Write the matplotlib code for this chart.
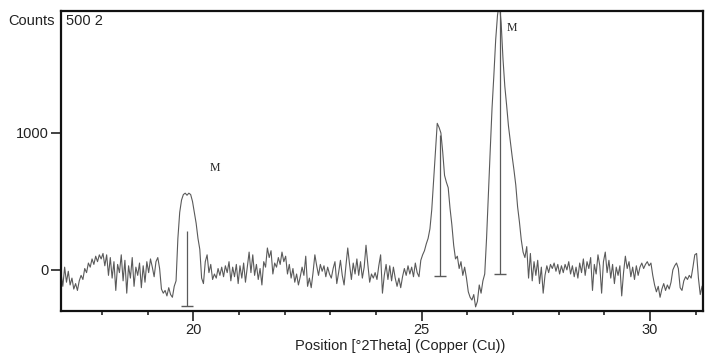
import numpy as np
import matplotlib
matplotlib.use('Agg')
import matplotlib.pyplot as plt
from matplotlib.ticker import MultipleLocator

# Difratograma - amostra 500 2 (Cu K-alfa), passo de 0.04 graus
theta_inicio = 17.10
passo = 0.04

contagens = [
    # 17.10 - 18.06
    -20, -120, 20, -90, -10, -110, -60, -140, -100, -150, -80, -40, -70, 10, -20, 50, 20, 80, 40, 100, 60, 110, 80, 120, 30,
    # 18.10 - 19.06
    110, -40, 90, -60, 60, -150, 40, -20, 110, -80, 70, -170, 30, -60, 90, -120, 20, -40, 50, -130, 30, -90, 60, -20, 80,
    # 19.10 - 20.06
    20, -50, 60, 90, 10, -140, -170, -150, -190, -130, -180, -200, -120, -80, 230, 420, 510, 550, 560, 545, 560, 550, 500, 420, 340,
    # 20.10 - 21.06
    230, 150, -60, -100, 60, 110, -20, 40, -70, -30, -60, 10, -40, 20, -50, 30, -20, 60, -80, 20, -50, 40, -100, 30, -60,
    # 21.10 - 22.06
    50, -90, 20, 130, -20, 110, -40, 40, -70, 10, -110, 60, 20, 160, 90, 140, -30, 50, 20, 90, 40, 130, 60, 100, -30,
    # 22.10 - 23.06
    40, -60, 10, -90, -30, -110, -50, 20, -40, 100, -120, -60, -130, -20, 110, 30, -40, 40, -10, 30, -50, 20, -30, -60, 10,
    # 23.10 - 24.06
    60, -100, -20, 70, -40, -110, 30, 160, 40, -70, 50, -30, 80, -40, 60, -60, 20, 180, 40, -90, -30, -60, -20, -70, 30,
    # 24.10 - 25.06
    110, -170, -40, 40, -70, 30, -80, 20, -60, -120, -60, -130, -50, 10, -40, 30, -30, 20, -50, 50, -20, -50, 70, 110, 140,
    # 25.10 - 26.06
    190, 230, 300, 440, 650, 860, 1070, 1040, 1000, 860, 690, 640, 600, 450, 330, 180, 80, 100, 10, 60, -40, 20, -60, -160, -200,
    # 26.10 - 27.06
    -220, -180, -270, -230, -110, -170, -80, -30, 230, 560, 870, 1180, 1420, 1680, 1860, 1950, 1800, 1540, 1340, 1200, 1050, 940, 830, 730, 620,
    # 27.10 - 28.06
    460, 350, 220, 130, 90, 170, -60, 120, -80, 60, -40, 70, -100, 20, -170, -40, 30, -20, 40, 10, 50, -10, 40, -30, 30,
    # 28.10 - 29.06
    -20, 40, 0, 60, -30, 30, -50, 20, -60, 50, -20, 80, -40, 60, 10, 90, -150, 40, -30, 110, 30, -170, 60, 130, -20,
    # 29.10 - 30.06
    70, -60, 40, -100, 20, -40, 30, -190, -20, 100, 10, 60, -50, 20, -70, 30, -40, 20, 50, 10, 40, 60, 30, 50, -40,
    # 30.10 - 31.06
    -110, -160, -120, -200, -140, -100, -150, -110, -140, -90, 0, 30, 50, 10, -130, -150, -80, -50, -70, -40, -60, 20, 110, 120, -60,
    # 31.10 - 31.14
    -180, -120,
]
contagens = np.array(contagens)
theta = theta_inicio + passo*np.arange(len(contagens))

# linhas de referencia (fase M)
ref_pos = [19.87, 25.41, 26.72]
ref_topo = [285, 985, 1950]
ref_base = [-263, -44, -29]

rotulo_x = [20.46, 26.97]
rotulo_y = [745, 1766]

plt.rcParams['font.family'] = ['Liberation Sans', 'DejaVu Sans']

fig = plt.figure(figsize=(7.15, 3.57), dpi=100)
ax = fig.add_axes([0.0853, 0.1289, 0.8979, 0.8403])

ax.plot(theta, contagens, color='#5a5a5a', linewidth=0.8)
ax.vlines(ref_pos, ref_base, ref_topo, color='#5a5a5a', linewidth=0.9)
ax.plot(ref_pos, ref_base, linestyle='none', marker='_', markersize=8,
        markeredgewidth=1.0, color='#5a5a5a')

for xx, yy in zip(rotulo_x, rotulo_y):
    ax.text(xx, yy, 'M', family='Liberation Serif', fontsize=8.5,
            ha='center', va='center', color='#222222')

ax.set_xlim(17.10, 31.16)
ax.set_ylim(-300, 1890)
ax.set_xticks([20, 25, 30])
ax.xaxis.set_minor_locator(MultipleLocator(1))
ax.set_yticks([0, 1000])
ax.tick_params(axis='both', which='major', labelsize=10.5, length=7,
               width=1.2, pad=2, colors='#222222')
ax.tick_params(axis='x', which='minor', length=3, width=1.2, color='#222222')

for s in ax.spines.values():
    s.set_linewidth(1.6)
    s.set_color('#111111')

ax.text(0.528, -0.095, 'Position [°2Theta] (Copper (Cu))', transform=ax.transAxes,
        ha='center', va='top', fontsize=10.5, color='#222222')
ax.text(-0.01, 0.965, 'Counts', transform=ax.transAxes, ha='right', va='center',
        fontsize=10.5, color='#222222')
ax.text(0.008, 0.965, '500 2', transform=ax.transAxes, ha='left', va='center',
        fontsize=10.5, color='#222222')

fig.savefig('out.png', dpi=100)
